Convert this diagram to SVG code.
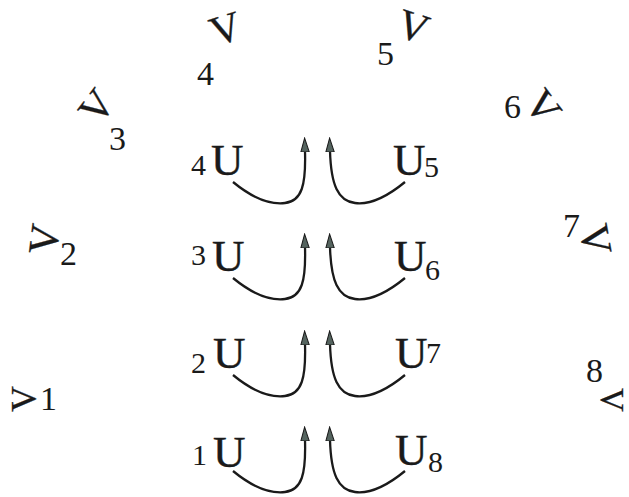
<svg xmlns="http://www.w3.org/2000/svg" width="629" height="497" viewBox="0 0 629 497">
<style>
  text { font-family: "Liberation Serif", "Times New Roman", serif; fill: #1a1a1a; }
  .v { font-size: 42px; text-anchor: middle; stroke: #1a1a1a; stroke-width: 0.3; }
  .vs { font-size: 36px; text-anchor: middle; stroke: #1a1a1a; stroke-width: 0.3; }
  .vr { font-size: 33px; text-anchor: middle; stroke: #1a1a1a; stroke-width: 0.3; }
  .d { font-size: 34px; }
  .u { font-size: 45px; stroke: #1a1a1a; stroke-width: 0.4; }
  .s { font-size: 30px; }
  .c { fill: none; stroke: #1a1a1a; stroke-width: 2.3; marker-end: url(#ah); }
</style>
<defs>
  <marker id="ah" markerUnits="userSpaceOnUse" markerWidth="15" markerHeight="10" viewBox="0 0 15 10" refX="1" refY="5" orient="auto">
    <path d="M0,0.8 L14,5 L0,9.2 Z" fill="#55645f" stroke="#1a1a1a" stroke-width="1"/>
  </marker>
</defs>
<rect width="629" height="497" fill="#ffffff"/>

<g id="V1"><text class="vs" transform="translate(36,399) rotate(-90)">V</text><text class="d" x="40" y="410">1</text></g>
<g id="V2"><text class="v" transform="translate(58,241) rotate(-83)">V</text><text class="d" x="60" y="265">2</text></g>
<g id="V3"><text class="v" transform="translate(108,115) rotate(-53)">V</text><text class="d" x="109" y="150">3</text></g>
<g id="V4"><text class="v" transform="translate(230,42) rotate(-18)">V</text><text class="d" x="197" y="85">4</text></g>
<g id="V5"><text class="v" transform="translate(409,40) rotate(18)">V</text><text class="d" x="377" y="65">5</text></g>
<g id="V6"><text class="v" transform="translate(532,115) rotate(53)">V</text><text class="d" x="504" y="118">6</text></g>
<g id="V7"><text class="v" transform="translate(582,242) rotate(80)">V</text><text class="d" x="563" y="237">7</text></g>
<g id="V8"><text class="vr" transform="translate(601,400) rotate(90)">V</text><text class="d" x="586" y="382">8</text></g>

<g id="L4"><text class="s" x="191" y="175">4</text><text class="u" x="211" y="175">U</text></g>
<g id="L3"><text class="s" x="191" y="265">3</text><text class="u" x="212" y="271">U</text></g>
<g id="L2"><text class="s" x="191" y="373">2</text><text class="u" x="213" y="368">U</text></g>
<g id="L1"><text class="s" x="192" y="465">1</text><text class="u" x="213" y="467">U</text></g>

<g id="R5"><text class="u" x="393" y="175">U</text><text class="s" x="424" y="177">5</text></g>
<g id="R6"><text class="u" x="394" y="271">U</text><text class="s" x="425" y="280">6</text></g>
<g id="R7"><text class="u" x="395" y="368">U</text><text class="s" x="426" y="363">7</text></g>
<g id="R8"><text class="u" x="395" y="465">U</text><text class="s" x="428" y="472">8</text></g>

<g id="connectors">
  <path class="c" d="M233,182 C250,196 268,205 285,203 C302,201 306,185 305,151"/>
  <path class="c" d="M405,182 C388,196 370,205 355,203 C338,201 331,185 330,151"/>
  <path class="c" d="M233,278 C250,292 268,301 285,299 C302,297 306,281 305,247"/>
  <path class="c" d="M405,278 C388,292 370,301 355,299 C338,297 331,281 330,247"/>
  <path class="c" d="M233,375 C250,389 268,398 285,396 C302,394 306,378 305,344"/>
  <path class="c" d="M405,375 C388,389 370,398 355,396 C338,394 331,378 330,344"/>
  <path class="c" d="M233,471 C250,485 268,494 285,492 C302,490 306,474 305,440"/>
  <path class="c" d="M405,471 C388,485 370,494 355,492 C338,490 331,474 330,440"/>
</g>
</svg>
